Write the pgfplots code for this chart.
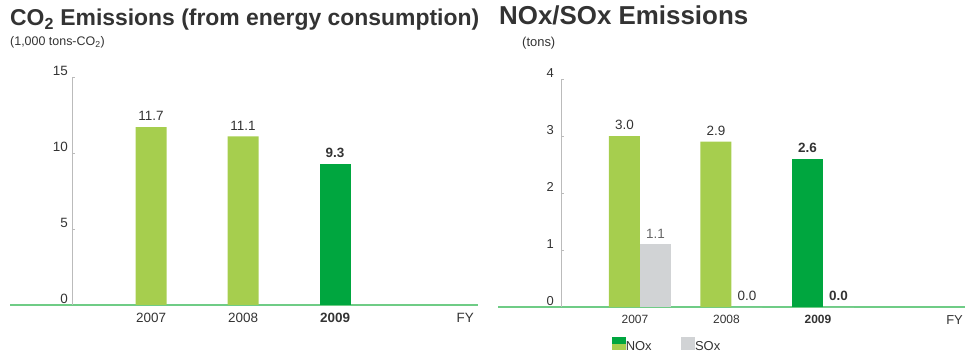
\documentclass[border=0pt]{standalone}
\usepackage{fontspec}
\setmainfont{Liberation Sans}
\usepackage{pgfplots}
\pgfplotsset{compat=1.18}
\definecolor{lightgreen}{HTML}{A6CE4E}
\definecolor{darkgreen}{HTML}{00A63F}
\definecolor{sgray}{HTML}{D1D3D5}
\definecolor{basegreen}{HTML}{6FCC86}
\definecolor{axisgray}{HTML}{BBBBBB}
\definecolor{txt}{HTML}{333333}
\pgfplotsset{
  mystyle/.style={
    scale only axis,
    axis lines=left, axis line style={-},
    x axis line style={draw=basegreen, line width=1.1bp},
    y axis line style={draw=axisgray, line width=0.6bp},
    xtick={1,2,3}, xticklabels={2007,2008,\textbf{2009}},
    xtick style={draw=none},
    ytick style={draw=axisgray, line width=0.5bp},
    tick align=inside, major tick length=3bp,
    tick label style={font=\fontsize{13.5}{13.5}\selectfont, text=txt},
    xticklabel style={anchor=north, inner sep=0pt, yshift=-8bp},
    yticklabel style={anchor=south east, inner sep=0pt, xshift=-4bp, yshift=1bp},
    /pgf/number format/assume math mode=true,
    clip=false,
    nodes near coords style={font=\fontsize{13.5}{13.5}\selectfont, text=txt, anchor=south, inner sep=0pt, yshift=6bp},
  },
  bars/.style={ybar, bar width=31bp, bar shift=#1, draw=none,
    nodes near coords={\pgfmathprintnumber[fixed,fixed zerofill,precision=1,assume math mode=true]{\pgfplotspointmeta}},
    every node near coord/.append style={xshift=#1}, forget plot},
  bold/.style={every node near coord/.append style={font=\fontsize{13.5}{13.5}\selectfont\bfseries}},
}
\begin{document}
\begin{tikzpicture}
\useasboundingbox (0bp,0bp) rectangle (965bp,356bp);
% Left chart
\begin{axis}[mystyle, at={(72bp,51bp)}, anchor=south west, width=406bp, height=228bp,
  xmin=0.141, xmax=4.554, ymin=0, ymax=15, ytick={0,5,10,15}]
  \addplot[bars=0pt, fill=lightgreen] coordinates {(1,11.7) (2,11.1)};
  \addplot[bars=0pt, fill=darkgreen, bold] coordinates {(3,9.3)};
  \draw[basegreen, line width=1.1bp] (rel axis cs:0,0) -- ++(-62bp,0pt);
  \node[anchor=north east, inner sep=0pt, font=\fontsize{13.5}{13.5}\selectfont, text=txt, yshift=-8bp, xshift=-4bp] at (rel axis cs:1,0) {FY};
\end{axis}
% Right chart
\begin{axis}[mystyle, at={(561bp,49bp)}, anchor=south west, width=404bp, height=228bp,
  xmin=0.137, xmax=4.552, ymin=0, ymax=4, ytick={0,1,2,3,4},
  xticklabel style={xshift=-5bp, font=\fontsize{12}{12}\selectfont},
  yticklabel style={xshift=-3bp, font=\fontsize{13}{13}\selectfont},
  legend style={at={(0.118,-0.165)}, anchor=west, draw=none, fill=none,
    legend columns=2, font=\fontsize{13}{13}\selectfont, text=txt,
    /tikz/every even column/.append style={column sep=29bp},
    nodes={inner sep=0.5bp}},
  legend cell align=left]
  \addplot[bars=-15.5bp, fill=lightgreen] coordinates {(1,3.0) (2,2.9)};
  \addplot[bars=-15.5bp, fill=darkgreen, bold] coordinates {(3,2.6)};
  \addplot[bars=15.5bp, fill=sgray, every node near coord/.append style={text=black!60}] coordinates {(1,1.1)};
  \addplot[bars=15.5bp, fill=sgray] coordinates {(2,0)};
  \addplot[bars=15.5bp, fill=sgray, bold] coordinates {(3,0)};
  \draw[basegreen, line width=1.1bp] (rel axis cs:0,0) -- ++(-63bp,0pt);
  \node[anchor=north east, inner sep=0pt, font=\fontsize{13}{13}\selectfont, text=txt, yshift=-8bp, xshift=-2bp] at (rel axis cs:1,0) {FY};
  \addlegendimage{legend image code/.code={\fill[darkgreen] (0bp,2bp) rectangle (13bp,9bp); \fill[lightgreen] (0bp,-3bp) rectangle (13bp,2bp);}}
  \addlegendentry{NOx}
  \addlegendimage{legend image code/.code={\fill[sgray] (0bp,-3bp) rectangle (13bp,9bp);}}
  \addlegendentry{SOx}
\end{axis}
% Titles
\node[anchor=base west, inner sep=0pt, font=\fontsize{23}{23}\selectfont\bfseries, text=txt] at (10bp,330bp) {CO\textsubscript{2} Emissions (from energy consumption)};
\node[anchor=base west, inner sep=0pt, font=\fontsize{12.5}{12.5}\selectfont, text=txt] at (10bp,310bp) {(1,000 tons-CO\textsubscript{2})};
\node[anchor=base west, inner sep=0pt, font=\fontsize{26}{26}\selectfont\bfseries, text=txt] at (499bp,331bp) {NOx/SOx Emissions};
\node[anchor=base west, inner sep=0pt, font=\fontsize{13}{13}\selectfont, text=txt] at (522bp,309bp) {(tons)};
\end{tikzpicture}
\end{document}
